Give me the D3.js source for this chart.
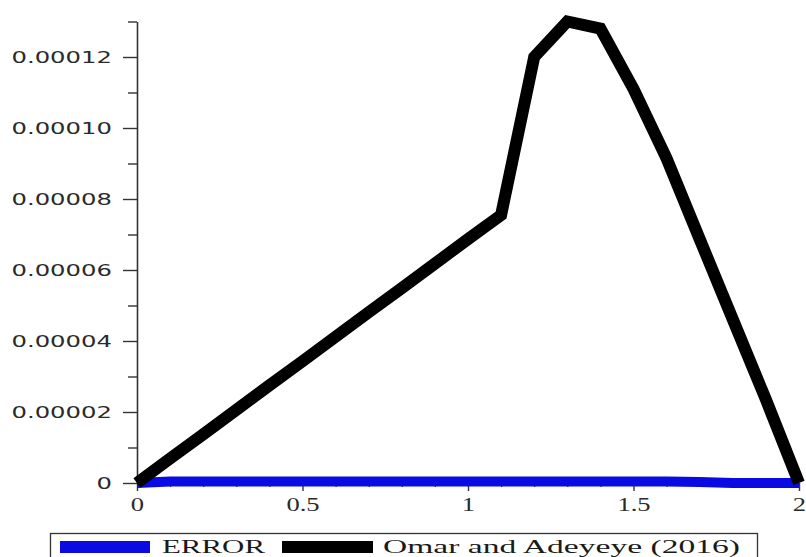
<!DOCTYPE html>
<meta charset="utf-8">
<script src="https://d3js.org/d3.v7.min.js"></script>
<style>
  body { margin: 0; background: #fff; }
</style>
<div id="chart"></div>
<script>

// data
var xValues = [0, 0.1, 0.2, 0.3, 0.4, 0.5, 0.6, 0.7, 0.8, 0.9, 1.0,
               1.1, 1.2, 1.3, 1.4, 1.5, 1.6, 1.7, 1.8, 1.9, 2.0];
var omarValues = [0, 0.0000069, 0.0000137, 0.0000206, 0.0000275, 0.0000343,
                  0.0000412, 0.0000481, 0.0000549, 0.0000618, 0.0000687,
                  0.0000755, 0.000120, 0.000130, 0.000128, 0.000111,
                  0.0000914, 0.0000687, 0.0000461, 0.0000235, 0];
var errorValues = [0, 0.0000004, 0.0000004, 0.0000004, 0.0000004, 0.0000004,
                   0.0000004, 0.0000004, 0.0000004, 0.0000004, 0.0000004,
                   0.0000004, 0.0000004, 0.0000004, 0.0000004, 0.0000004,
                   0.0000004, 0.0000003, 0, 0, 0];

var yTicks = [0, 0.00002, 0.00004, 0.00006, 0.00008, 0.00010, 0.00012];
var yTickLabels = ["0", "0.00002", "0.00004", "0.00006", "0.00008", "0.00010", "0.00012"];
var yMinorTicks = [0.00001, 0.00003, 0.00005, 0.00007, 0.00009, 0.00011, 0.00013];
var xTicks = [0, 0.5, 1, 1.5, 2];
var xTickLabels = ["0", "0.5", "1", "1.5", "2"];
var xMinorTicks = [0.1, 0.2, 0.3, 0.4, 0.6, 0.7, 0.8, 0.9, 1.1, 1.2, 1.3, 1.4, 1.6, 1.7, 1.8, 1.9];
var legendNames = ["ERROR", "Omar and Adeyeye (2016)"];
var seriesColors = ["#0a0ae2", "#000000"];

var width = 806, height = 557;

var svg = d3.select("#chart")
  .append("svg")
    .attr("width", width)
    .attr("height", height)
    .style("display", "block")
    .style("background", "#fff");

// scales
var x = d3.scaleLinear().domain([0, 2]).range([137, 799]);
var y = d3.scaleLinear().domain([0, 0.00013]).range([483, 21.5]);

// minor y ticks
svg.append("g")
  .attr("transform", "translate(" + x(0) + ",0)")
  .call(d3.axisLeft(y).tickValues(yMinorTicks).tickSize(9).tickSizeOuter(0).tickFormat(""))
  .call(function(g) { g.select(".domain").remove(); })
  .selectAll("line").attr("stroke", "#333").attr("stroke-width", 1.4);

// major y axis
var yAxis = svg.append("g")
  .attr("transform", "translate(" + x(0) + ",0)")
  .call(d3.axisLeft(y).tickValues(yTicks).tickSize(14).tickSizeOuter(0)
    .tickFormat(function(d, i) { return yTickLabels[i]; }));
yAxis.select(".domain").attr("stroke", "#333").attr("stroke-width", 1.6);
yAxis.selectAll("line").attr("stroke", "#333").attr("stroke-width", 1.4);
yAxis.selectAll("text")
  .attr("x", 0)
  .attr("dy", "0.36em")
  .attr("transform", "translate(-25,0) scale(1.52,1)")
  .attr("fill", "#2a2a2a")
  .style("font-family", "'DejaVu Sans', sans-serif")
  .style("font-size", "16px");

// minor x ticks
svg.append("g")
  .attr("transform", "translate(0," + y(0) + ")")
  .call(d3.axisBottom(x).tickValues(xMinorTicks).tickSize(4).tickSizeOuter(0).tickFormat(""))
  .call(function(g) { g.select(".domain").remove(); })
  .selectAll("line").attr("stroke", "#333").attr("stroke-width", 1.2);

// major x axis
var xAxis = svg.append("g")
  .attr("transform", "translate(0," + y(0) + ")")
  .call(d3.axisBottom(x).tickValues(xTicks).tickSize(8).tickSizeOuter(0)
    .tickFormat(function(d, i) { return xTickLabels[i]; }));
xAxis.select(".domain").attr("stroke", "#333").attr("stroke-width", 1.6);
xAxis.selectAll("line").attr("stroke", "#333").attr("stroke-width", 1.4);
xAxis.selectAll("text")
  .attr("y", 0)
  .attr("dy", 0)
  .attr("transform", "translate(0,28) scale(1.4,1)")
  .attr("fill", "#2a2a2a")
  .style("font-family", "'Liberation Serif', serif")
  .style("font-size", "19px");

// lines
var line = function(values) {
  return d3.line()
    .x(function(d, i) { return x(xValues[i]); })
    .y(function(d) { return y(d); })(values);
};

svg.append("path")
  .attr("d", line(errorValues))
  .attr("fill", "none")
  .attr("stroke", seriesColors[0])
  .attr("stroke-width", 10);

svg.append("path")
  .attr("d", line(omarValues))
  .attr("fill", "none")
  .attr("stroke", seriesColors[1])
  .attr("stroke-width", 12)
  .attr("stroke-linejoin", "miter");

// legend
var legend = svg.append("g");
legend.append("rect")
  .attr("x", 50.5).attr("y", 533.5)
  .attr("width", 707).attr("height", 40)
  .attr("fill", "#fff")
  .attr("stroke", "#333")
  .attr("stroke-width", 1.3);

var legendItems = [
  {swatchX: 60, swatchW: 90, textX: 162, textW: 103},
  {swatchX: 282, swatchW: 91, textX: 383, textW: 357}
];
legendItems.forEach(function(item, i) {
  legend.append("rect")
    .attr("x", item.swatchX).attr("y", 541)
    .attr("width", item.swatchW).attr("height", 12)
    .attr("fill", seriesColors[i]);
  legend.append("text")
    .attr("x", item.textX).attr("y", 553)
    .attr("textLength", item.textW)
    .attr("lengthAdjust", "spacingAndGlyphs")
    .attr("fill", "#1a1a1a")
    .style("font-family", "'Liberation Serif', serif")
    .style("font-size", "19px")
    .text(legendNames[i]);
});

</script>
